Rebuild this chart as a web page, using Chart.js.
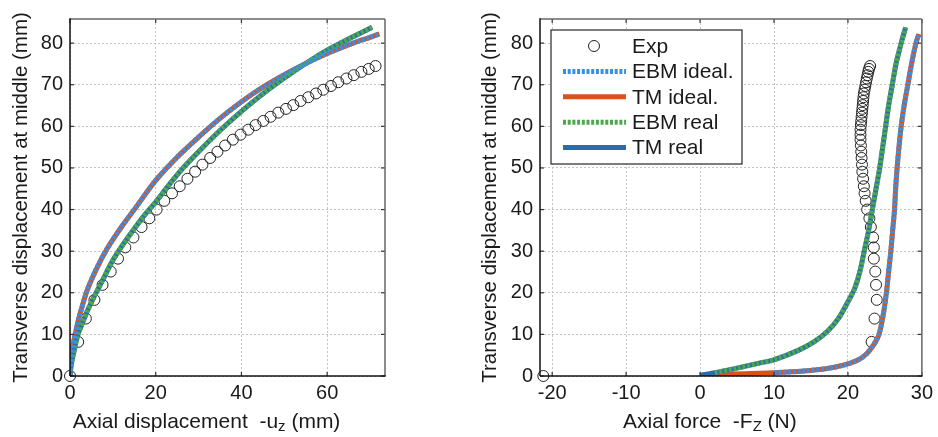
<!DOCTYPE html>
<html>
<head>
<meta charset="utf-8">
<title>Beam buckling: deflection vs shortening and force</title>
<script src="https://cdn.jsdelivr.net/npm/chart.js@4.4.1/dist/chart.umd.min.js"></script>
<style>
  html, body { margin: 0; padding: 0; background: #fff; }
  #wrap { position: relative; width: 938px; height: 437px; }
  .pane { position: absolute; top: 0; width: 469px; height: 437px; }
  #paneL { left: 0; }
  #paneR { left: 469px; }
</style>
</head>
<body>
<div id="wrap">
  <div class="pane" id="paneL"><canvas id="chartL" width="469" height="437"></canvas></div>
  <div class="pane" id="paneR"><canvas id="chartR" width="469" height="437"></canvas></div>
</div>
<script>
// ---- experiment (same test, deflection against shortening and against force)
var expShortening = [0, 1.9, 3.7, 5.7, 7.6, 9.5, 11.2, 12.9, 14.8, 16.7, 18.5, 20.2, 22.0, 23.8, 25.6,
  27.4, 29.2, 30.9, 32.7, 34.4, 36.2, 38.0, 39.8, 41.6, 43.3, 45.1, 46.8, 48.6, 50.4, 52.1, 53.8,
  55.6, 57.4, 59.1, 60.9, 62.6, 64.5, 66.2, 68.0, 69.7, 71.3];
var expDefl = [0, 8.2, 13.8, 18.3, 21.9, 25.1, 28.2, 30.9, 33.3, 35.8, 37.9, 40.0, 42.1, 43.9, 45.6,
  47.4, 49.1, 50.8, 52.4, 53.9, 55.4, 56.8, 58.0, 59.2, 60.3, 61.3, 62.3, 63.3, 64.2, 65.1, 66.1,
  67.0, 67.9, 68.8, 69.7, 70.6, 71.5, 72.3, 73.1, 73.8, 74.5];
var expForce = [-21.2, 23.2, 23.6, 23.9, 23.8, 23.7, 23.5, 23.5, 23.4, 23.1, 22.9, 22.6, 22.4, 22.25, 22.15,
  22.05, 21.95, 21.9, 21.85, 21.8, 21.75, 21.7, 21.7, 21.7, 21.75, 21.8, 21.85, 21.9, 21.95, 22.0, 22.05,
  22.1, 22.15, 22.25, 22.35, 22.45, 22.55, 22.65, 22.75, 22.85, 23.0];

// ---- models, deflection vs shortening
var idealShortening = [0, 0.2, 0.6, 1.2, 2.1, 3.9, 6.2, 8.6, 12, 15, 20, 25, 30, 35, 40, 45, 50, 55, 60, 65, 70, 72.2];
var idealDefl = [0, 3.5, 6.8, 10, 14, 20.3, 25.8, 30.5, 35.8, 40, 47, 52.6, 57.4, 61.9, 65.9, 69.4, 72.4, 75.1, 77.5, 79.6, 81.4, 82.2];
var realShortening = [0, 0.3, 0.9, 1.8, 3, 4.2, 5.5, 7.5, 10, 12.5, 15, 17.5, 20, 23, 26.4, 30, 35, 40, 45, 50, 55, 60, 65, 70.5];
var realDefl = [0, 2.8, 5.8, 9.8, 13, 16, 18.8, 22.8, 27.8, 31.8, 35.4, 38.8, 41.8, 45.8, 50, 53.9, 59, 63.6, 67.8, 71.6, 75.1, 78.3, 81, 83.8];

// ---- models, deflection vs axial force
var idealForce = [10, 14, 17.2, 19.4, 21.2, 22.5, 23.5, 24.2, 24.8, 25.2, 25.5, 25.8, 26.05, 26.3, 26.45, 26.65, 26.9, 27.2, 27.6, 28.1, 28.6, 29.2, 29.6];
var idealDeflF = [0.8, 1.2, 1.8, 2.6, 3.7, 5.3, 7.6, 10, 15, 20, 25, 30, 35, 40, 45, 50, 55, 60, 65, 70, 75, 80, 82.2];
var tmIdealForceStart = [0, 3, 6];
var tmIdealDeflStart = [0.1, 0.35, 0.55];
var realForce = [2, 5, 8, 10, 13.2, 15.4, 17.2, 18.7, 19.9, 20.9, 21.6, 22.2, 22.8, 23.3, 23.8, 24.3, 24.7, 25.1, 25.5, 26.0, 26.5, 27.2, 27.8];
var realDeflF = [0.8, 1.9, 3.1, 3.9, 6.1, 8.2, 10.7, 13.8, 17.5, 21, 25, 30, 35, 40, 45, 50, 55, 60, 65, 70, 75, 80, 83.8];
var tmRealForceStart = [0];
var tmRealDeflStart = [0.2];

// ---- axes
var seriesNames = ['Exp', 'EBM ideal.', 'TM ideal.', 'EBM real', 'TM real'];
var deflTicks = [0, 10, 20, 30, 40, 50, 60, 70, 80];
var shorteningTicks = [0, 20, 40, 60];
var forceTicks = [-20, -10, 0, 10, 20, 30];

var INK = '#1a1a1a';
var FONT = '"Liberation Sans", Arial, Helvetica, sans-serif';
Chart.defaults.font.family = FONT;
Chart.defaults.font.size = 20;
Chart.defaults.color = INK;

function pts(xs, ys) {
  return xs.map(function (x, i) { return { x: x, y: ys[i] }; });
}

function buildDatasets(exp, ebmI, tmI, ebmR, tmR) {
  var dotted = [3, 1.7];
  return [
    { label: seriesNames[0], data: exp, showLine: false, pointStyle: 'circle', pointRadius: 5.5,
      pointBorderWidth: 1, pointBorderColor: '#222', pointBackgroundColor: 'rgba(0,0,0,0)',
      clip: false, order: 5 },
    { label: seriesNames[1], data: ebmI, showLine: true, pointRadius: 0, borderColor: '#3b8ee5',
      borderWidth: 5, borderDash: dotted, borderCapStyle: 'butt', tension: 0.3, order: 1 },
    { label: seriesNames[2], data: tmI, showLine: true, pointRadius: 0, borderColor: '#d95319',
      borderWidth: 5, borderCapStyle: 'butt', tension: 0.3, order: 4 },
    { label: seriesNames[3], data: ebmR, showLine: true, pointRadius: 0, borderColor: '#4ba84b',
      borderWidth: 5, borderDash: dotted, borderCapStyle: 'butt', tension: 0.3, order: 2 },
    { label: seriesNames[4], data: tmR, showLine: true, pointRadius: 0, borderColor: '#2b6cb0',
      borderWidth: 5, borderCapStyle: 'butt', tension: 0.3, order: 3 }
  ];
}

// box round the plot area with inward ticks on all four sides
var framePlugin = {
  id: 'frame',
  afterDatasetsDraw: function (chart) {
    var ctx = chart.ctx, a = chart.chartArea, sx = chart.scales.x, sy = chart.scales.y;
    function seg(x1, y1, x2, y2) { ctx.beginPath(); ctx.moveTo(x1, y1); ctx.lineTo(x2, y2); ctx.stroke(); }
    ctx.save();
    ctx.lineWidth = 1.2;
    ctx.strokeStyle = '#333';
    sx.ticks.forEach(function (t) {
      var px = sx.getPixelForValue(t.value);
      seg(px, a.bottom, px, a.bottom - 4);
      seg(px, a.top, px, a.top + 4);
    });
    sy.ticks.forEach(function (t) {
      var py = sy.getPixelForValue(t.value);
      seg(a.left, py, a.left + 4, py);
      seg(a.right, py, a.right - 4, py);
    });
    ctx.lineWidth = 1.5;
    ctx.strokeStyle = '#666';
    seg(a.left, a.top, a.right, a.top);
    seg(a.right, a.top, a.right, a.bottom);
    ctx.strokeStyle = '#111';
    seg(a.left, a.bottom, a.right + 0.7, a.bottom);
    seg(a.left, a.top - 0.7, a.left, a.bottom);
    ctx.restore();
  }
};

// x-axis title with a subscript part
var xTitlePlugin = {
  id: 'xTitle',
  afterDraw: function (chart, args, opts) {
    var ctx = chart.ctx, a = chart.chartArea;
    var runs = opts.runs, total = 0;
    ctx.save();
    ctx.fillStyle = INK;
    ctx.textBaseline = 'alphabetic';
    runs.forEach(function (r) {
      ctx.font = r.size + 'px ' + FONT;
      r.w = ctx.measureText(r.text).width;
      total += r.w;
    });
    var x = (a.left + a.right) / 2 + opts.shift - total / 2;
    runs.forEach(function (r) {
      ctx.font = r.size + 'px ' + FONT;
      ctx.fillText(r.text, x, opts.baseline + (r.dy || 0));
      x += r.w;
    });
    ctx.restore();
  }
};

// boxed legend in the upper-left corner of the plot area
var legendBoxPlugin = {
  id: 'legendBox',
  afterDraw: function (chart, args, opts) {
    if (!opts.show) return;
    var ctx = chart.ctx, a = chart.chartArea;
    var bx = a.left + 11, by = a.top + 11, bw = 191, bh = 134;
    ctx.save();
    ctx.fillStyle = '#fff';
    ctx.fillRect(bx, by, bw, bh);
    ctx.strokeStyle = '#262626';
    ctx.lineWidth = 1.2;
    ctx.strokeRect(bx, by, bw, bh);
    chart.data.datasets.forEach(function (ds, i) {
      var ry = by + 16 + i * 25.4;
      if (ds.showLine) {
        ctx.strokeStyle = ds.borderColor;
        ctx.lineWidth = ds.borderWidth;
        ctx.lineCap = 'butt';
        ctx.setLineDash(ds.borderDash || []);
        ctx.beginPath();
        ctx.moveTo(bx + 12, ry);
        ctx.lineTo(bx + 75, ry);
        ctx.stroke();
        ctx.setLineDash([]);
      } else {
        ctx.strokeStyle = ds.pointBorderColor;
        ctx.lineWidth = ds.pointBorderWidth;
        ctx.beginPath();
        ctx.arc(bx + 43, ry, ds.pointRadius, 0, Math.PI * 2);
        ctx.stroke();
      }
      ctx.fillStyle = INK;
      ctx.font = '21px ' + FONT;
      ctx.textBaseline = 'middle';
      ctx.fillText(ds.label, bx + 81, ry + 1);
    });
    ctx.restore();
  }
};

function makeChart(id, datasets, xMin, xMax, xTicks, yAxisWidth, padRight, titleRuns, showLegend) {
  return new Chart(document.getElementById(id), {
    type: 'scatter',
    data: { datasets: datasets },
    plugins: [framePlugin, xTitlePlugin, legendBoxPlugin],
    options: {
      responsive: false,
      devicePixelRatio: 1,
      animation: false,
      layout: { padding: { left: 0, top: 8, right: padRight, bottom: 0 } },
      plugins: {
        legend: { display: false },
        tooltip: { enabled: false },
        xTitle: { runs: titleRuns, shift: -21, baseline: 428 },
        legendBox: { show: showLegend }
      },
      scales: {
        x: {
          type: 'linear', min: xMin, max: xMax,
          afterBuildTicks: function (s) { s.ticks = xTicks.map(function (v) { return { value: v }; }); },
          afterFit: function (s) { s.height = 61; },
          ticks: { padding: 5, maxRotation: 0, autoSkip: false, font: { size: 20 }, color: INK },
          grid: { color: '#c4c4c4', lineWidth: 1, drawTicks: false },
          border: { display: false, dash: [2, 2] }
        },
        y: {
          type: 'linear', min: 0, max: 85.8,
          afterBuildTicks: function (s) { s.ticks = deflTicks.map(function (v) { return { value: v }; }); },
          afterFit: function (s) { s.width = yAxisWidth; },
          ticks: { padding: 7, autoSkip: false, font: { size: 20 }, color: INK },
          grid: { color: '#c4c4c4', lineWidth: 1, drawTicks: false },
          border: { display: false, dash: [2, 2] },
          title: {
            display: true, text: 'Transverse displacement at middle (mm)',
            font: { size: 20.5 }, color: INK, padding: { top: 9, bottom: 0 }
          }
        }
      }
    }
  });
}

makeChart('chartL',
  buildDatasets(
    pts(expShortening, expDefl),
    pts(idealShortening, idealDefl),
    pts(idealShortening, idealDefl),
    pts(realShortening, realDefl),
    pts(realShortening, realDefl)),
  0, 73.5, shorteningTicks, 70, 84,
  [{ text: 'Axial displacement  -u', size: 21 }, { text: 'z', size: 15, dy: 3 }, { text: ' (mm)', size: 21 }],
  false);

makeChart('chartR',
  buildDatasets(
    pts(expForce, expDefl),
    pts(idealForce, idealDeflF),
    pts(tmIdealForceStart.concat(idealForce), tmIdealDeflStart.concat(idealDeflF)),
    pts(realForce, realDeflF),
    pts(tmRealForceStart.concat(realForce), tmRealDeflStart.concat(realDeflF))),
  -21.65, 30, forceTicks, 71, 12,
  [{ text: 'Axial force  -F', size: 21 }, { text: 'Z', size: 15, dy: 3 }, { text: ' (N)', size: 21 }],
  true);
</script>
</body>
</html>
